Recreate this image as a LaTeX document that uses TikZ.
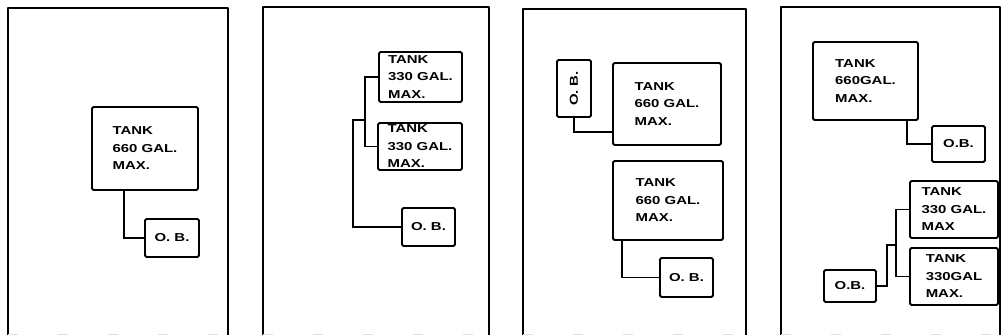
\documentclass[tikz,border=0pt]{standalone}
\usepackage{fontspec}
\usepackage{graphicx}
\setsansfont{Liberation Sans}[FakeStretch=1.3]
\usepackage{tikz}
\usetikzlibrary{positioning, calc}

\begin{document}
\begin{tikzpicture}[
    x=1pt, y=-1pt,
    panel/.style={line width=2.2pt, line join=round},
    tank/.style={rectangle, draw, line width=1.8pt, rounded corners=1.5pt, align=left, inner sep=0pt, font=\sffamily\bfseries\fontsize{11.5}{17.5}\selectfont},
    ob/.style={tank},
    pipe/.style={line width=1.8pt},
    scanline/.style={gray!25, line width=0.8pt, dash pattern=on 10pt off 40pt}
]
\useasboundingbox (0,0) rectangle (1002,335);

% the four panels, open at the bottom
\draw[panel] (8,335) |- (228,8) -- (228,335);
\draw[panel] (263,335) |- (489,7) -- (489,335);
\draw[panel] (523,335) |- (746,9) -- (746,335);
\draw[panel] (781,335) |- (1000,7) -- (1000,335);
\draw[scanline] (8,334) -- (228,334);
\draw[scanline] (263,334) -- (489,334);
\draw[scanline] (523,334) -- (746,334);
\draw[scanline] (781,334) -- (1000,334);

% panel 1
\node[tank, minimum width=106pt, minimum height=83pt] (tankA) at (145,148.5) {TANK\\660 GAL.\\MAX.};
\node[ob, minimum width=54pt, minimum height=38pt] (obA) at (172,238) {O. B.};
\draw[pipe] ([xshift=-21pt]tankA.south) |- (obA.west);

% panel 2
\node[tank, minimum width=83pt, minimum height=50pt] (tankB1) at (420.5,77) {TANK\\330 GAL.\\MAX.};
\node[tank, minimum width=84pt, minimum height=47pt] (tankB2) at (420,146.5) {TANK\\330 GAL.\\MAX.};
\node[ob, minimum width=53pt, minimum height=38pt] (obB) at (428.5,227) {O. B.};
\coordinate (jB) at (365,120);
\draw[pipe] (tankB1.west) -| (jB) |- (tankB2.west);
\draw[pipe] (jB) -- ++(-12,0) |- (obB.west);

% panel 3
\node[ob, minimum width=34pt, minimum height=57pt] (obC1) at (574,88.5) {\rotatebox{90}{O. B.}};
\node[tank, minimum width=108pt, minimum height=82pt] (tankC1) at (667,104) {TANK\\660 GAL.\\MAX.};
\draw[pipe] (obC1.south) |- ([yshift=14pt]tankC1.south west);
\node[tank, minimum width=110pt, minimum height=79pt] (tankC2) at (668,200.5) {TANK\\660 GAL.\\MAX.};
\node[ob, minimum width=53pt, minimum height=39pt] (obC2) at (686.5,277.5) {O. B.};
\draw[pipe] ([xshift=10pt]tankC2.south west) |- (obC2.west);

% panel 4
\node[tank, minimum width=105pt, minimum height=78pt] (tankD1) at (865.5,81) {TANK\\660GAL.\\MAX.};
\node[ob, minimum width=53pt, minimum height=36pt] (obD1) at (958.5,144) {O.B.};
\draw[pipe] ([xshift=-12pt]tankD1.south east) |- (obD1.west);
\node[tank, minimum width=88pt, minimum height=57pt] (tankD2) at (954,209.5) {TANK\\330 GAL.\\MAX};
\node[tank, minimum width=88pt, minimum height=57pt] (tankD3) at (954,276.5) {TANK\\330GAL\\MAX.};
\node[ob, minimum width=52pt, minimum height=32pt] (obD2) at (850,286) {O.B.};
\coordinate (jD) at (896,245);
\draw[pipe] (tankD2.west) -| (jD) |- (tankD3.west);
\draw[pipe] (jD) -- ++(-9,0) |- (obD2.east);

\end{tikzpicture}
\end{document}
